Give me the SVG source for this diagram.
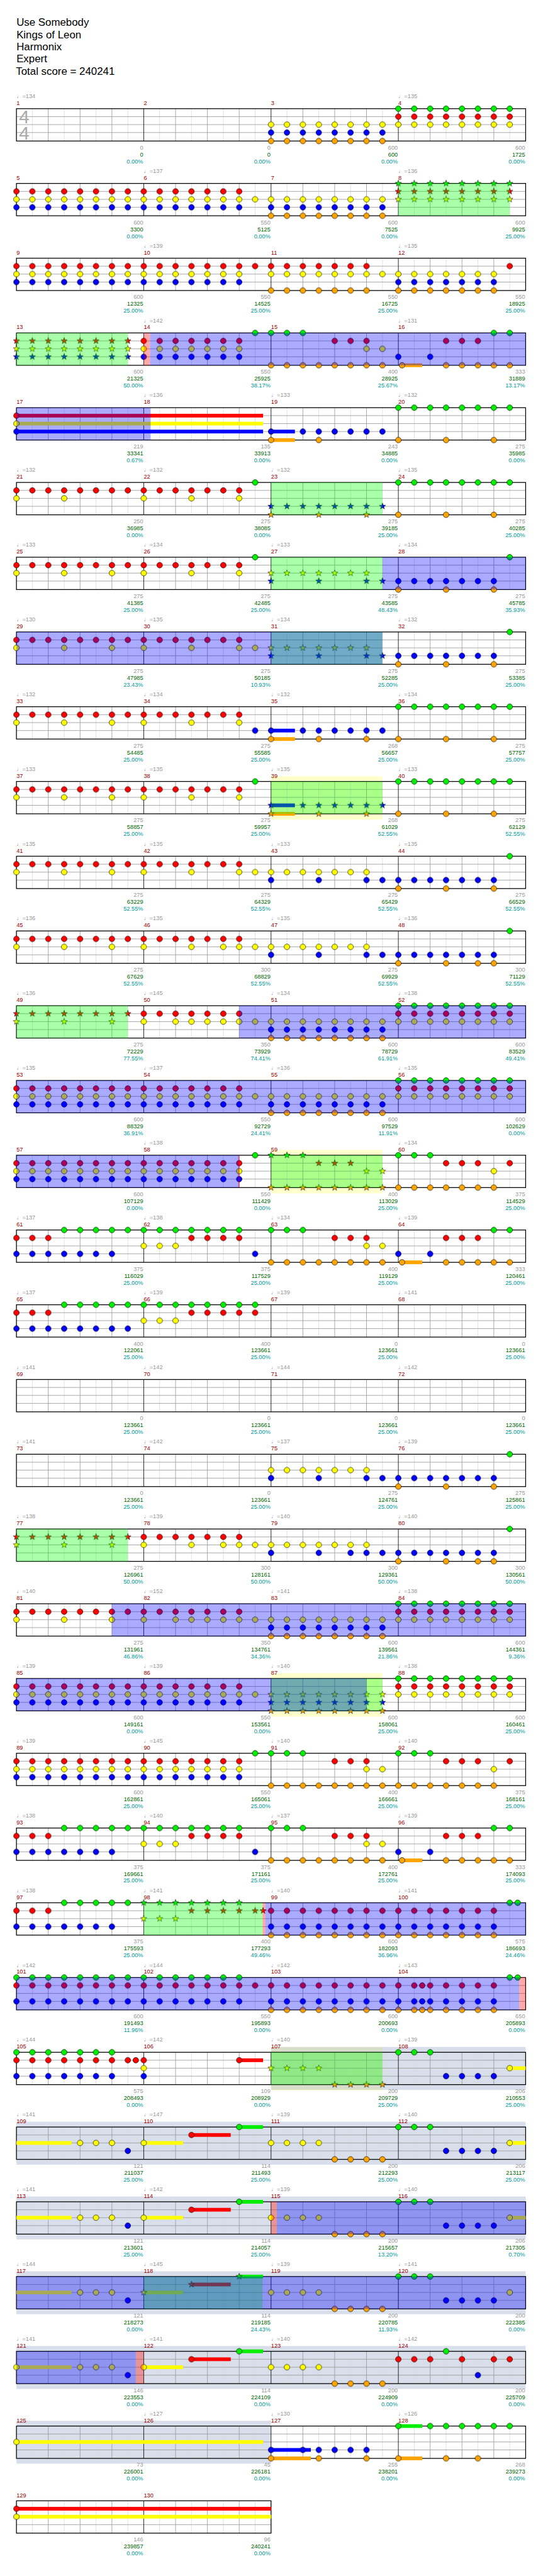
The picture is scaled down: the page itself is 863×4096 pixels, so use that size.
<svg xmlns="http://www.w3.org/2000/svg" width="863" height="4096" viewBox="0 0 863 4096">
<style>
text{font-family:"Liberation Sans","DejaVu Sans",sans-serif;font-size:11px}
.m{fill:#900}
.q{fill:#999}
.a{fill:#999;text-anchor:end}
.g{fill:#060}
.t{fill:#099}
.ti{font-size:20px;fill:#000}
.ts{font-size:35px;fill:#aaa}
.n{fill:none;stroke-width:78}
.og{fill:#0f0;fill-opacity:.333}
.ob{fill:#00f;fill-opacity:.333}
.op{fill:#f00;fill-opacity:.333}
.by{fill:#ffc}
.bg{fill:#8fa0c4;fill-opacity:.35}
</style>
<defs>
<circle id="cG" r="5.3" fill="#0e0" stroke="#000" stroke-width=".8"/>
<circle id="cR" r="5.3" fill="#f00" stroke="#000" stroke-width=".8"/>
<circle id="cY" r="5.3" fill="#ff0" stroke="#000" stroke-width=".8"/>
<circle id="cB" r="5.3" fill="#00f" stroke="#000" stroke-width=".8"/>
<circle id="cO" r="5.3" fill="#ffa500" stroke="#000" stroke-width=".8"/>
<path id="st" d="M0-6.3L1.5-2 6-1.95 2.4.8 3.7 5.1 0 2.5-3.7 5.1-2.4.8-6-1.95-1.5-2z" stroke="#000" stroke-width=".7"/>
<pattern id="pG" x="16" width="30" height="141" patternUnits="userSpaceOnUse"><use href="#cG" x="15" y="64"/></pattern>
<pattern id="pR" x="16" width="30" height="141" patternUnits="userSpaceOnUse"><use href="#cR" x="15" y="79"/></pattern>
<pattern id="pY" x="16" width="30" height="141" patternUnits="userSpaceOnUse"><use href="#cY" x="15" y="94"/></pattern>
<pattern id="pB" x="16" width="30" height="141" patternUnits="userSpaceOnUse"><use href="#cB" x="15" y="109"/></pattern>
<pattern id="pO" x="16" width="30" height="141" patternUnits="userSpaceOnUse"><use href="#cO" x="15" y="125"/></pattern>
<pattern id="sG" x="16" width="30" height="141" patternUnits="userSpaceOnUse"><use href="#st" x="15" y="64" fill="#0e0"/></pattern>
<pattern id="sR" x="16" width="30" height="141" patternUnits="userSpaceOnUse"><use href="#st" x="15" y="79" fill="#f00"/></pattern>
<pattern id="sY" x="16" width="30" height="141" patternUnits="userSpaceOnUse"><use href="#st" x="15" y="94" fill="#ff0"/></pattern>
<pattern id="sB" x="16" width="30" height="141" patternUnits="userSpaceOnUse"><use href="#st" x="15" y="109" fill="#00f"/></pattern>
<pattern id="sO" x="16" width="30" height="141" patternUnits="userSpaceOnUse"><use href="#st" x="15" y="125" fill="#ffa500"/></pattern>
<g id="staff">
<path d="M61 205v61M121 205v61M181 205v61M241 205v61M301 205v61M361 205v61M421 205v61M481 205v61M541 205v61M601 205v61M661 205v61M721 205v61M781 205v61M841 205v61M901 205v61M961 205v61" stroke="#ddd"/>
<path d="M91 205v61M151 205v61M211 205v61M331 205v61M391 205v61M451 205v61M571 205v61M631 205v61M691 205v61M811 205v61M871 205v61M931 205v61M31 220H991M31 235H991M31 250H991" stroke="#999"/>
<path d="M271 205v61M511 205v61M751 205v61" stroke="#000"/>
<rect x="31" y="205" width="960" height="61" fill="none" stroke="#000" stroke-width="1.5"/>
</g>
<g id="staff2">
<path d="M61 205v61M121 205v61M181 205v61M241 205v61M301 205v61M361 205v61M421 205v61M481 205v61" stroke="#ddd"/>
<path d="M91 205v61M151 205v61M211 205v61M331 205v61M391 205v61M451 205v61M31 220H511M31 235H511M31 250H511" stroke="#999"/>
<path d="M271 205v61" stroke="#000"/>
<rect x="31" y="205" width="480" height="61" fill="none" stroke="#000" stroke-width="1.5"/>
</g>
</defs>
<rect width="863" height="4096" fill="#fff"/>
<g transform="scale(0.843)">
<g id="title">
<text class="ti" x="31" y="49">Use Somebody</text>
<text class="ti" x="31" y="72">Kings of Leon</text>
<text class="ti" x="31" y="95">Harmonix</text>
<text class="ti" x="31" y="118">Expert</text>
<text class="ti" x="30" y="141">Total score = 240241</text>
</g>

<g id="row1" transform="translate(0,0)">
<use href="#staff"/>
<text class="ts" x="36" y="233">4</text><text class="ts" x="36" y="263">4</text>
<path class="n" stroke="url(#pG)" d="M736 236h240"/>
<path class="n" stroke="url(#pR)" d="M736 236h240"/>
<path class="n" stroke="url(#pY)" d="M496 236h480"/>
<path class="n" stroke="url(#pB)" d="M496 236h240"/>
<path class="n" stroke="url(#pO)" d="M496 236h240"/>
<text class="q" x="31" y="185">♩=134</text><text class="q" x="751" y="185">♩=135</text>
<text class="m" x="31" y="198">1</text><text class="m" x="271" y="198">2</text><text class="m" x="511" y="198">3</text><text class="m" x="751" y="198">4</text>
<text class="a" x="270" y="282">0<tspan class="g" x="270" dy="13">0</tspan><tspan class="t" x="270" dy="13">0.00%</tspan></text>
<text class="a" x="510" y="282">0<tspan class="g" x="510" dy="13">0</tspan><tspan class="t" x="510" dy="13">0.00%</tspan></text>
<text class="a" x="750" y="282">600<tspan class="g" x="750" dy="13">600</tspan><tspan class="t" x="750" dy="13">0.00%</tspan></text>
<text class="a" x="990" y="282">600<tspan class="g" x="990" dy="13">1725</tspan><tspan class="t" x="990" dy="13">0.00%</tspan></text>
</g>

<g id="row2" transform="translate(0,141)">
<use href="#staff"/>
<path class="n" stroke="url(#pR)" d="M16 236h450"/>
<path class="n" stroke="url(#pY)" d="M16 236h720"/>
<path class="n" stroke="url(#pB)" d="M16 236h450M496 236h240"/>
<path class="n" stroke="url(#pO)" d="M496 236h240"/>
<path class="n" stroke="url(#sG)" d="M736 236h240"/>
<path class="n" stroke="url(#sR)" d="M736 236h240"/>
<path class="n" stroke="url(#sY)" d="M736 236h240"/>
<rect class="og" x="751" y="205" width="210" height="61"/>
<text class="q" x="271" y="185">♩=137</text><text class="q" x="751" y="185">♩=136</text>
<text class="m" x="31" y="198">5</text><text class="m" x="271" y="198">6</text><text class="m" x="511" y="198">7</text><text class="m" x="751" y="198">8</text>
<text class="a" x="270" y="282">600<tspan class="g" x="270" dy="13">3300</tspan><tspan class="t" x="270" dy="13">0.00%</tspan></text>
<text class="a" x="510" y="282">550<tspan class="g" x="510" dy="13">5125</tspan><tspan class="t" x="510" dy="13">0.00%</tspan></text>
<text class="a" x="750" y="282">600<tspan class="g" x="750" dy="13">7525</tspan><tspan class="t" x="750" dy="13">0.00%</tspan></text>
<text class="a" x="990" y="282">600<tspan class="g" x="990" dy="13">9925</tspan><tspan class="t" x="990" dy="13">25.00%</tspan></text>
</g>

<g id="row3" transform="translate(0,282)">
<use href="#staff"/>
<path class="n" stroke="url(#pR)" d="M16 236h690M946 236h30"/>
<path class="n" stroke="url(#pY)" d="M16 236h450M496 236h450"/>
<path class="n" stroke="url(#pB)" d="M16 236h450M736 236h210"/>
<path class="n" stroke="url(#pO)" d="M496 236h210M736 236h210"/>
<text class="q" x="271" y="185">♩=139</text><text class="q" x="751" y="185">♩=135</text>
<text class="m" x="31" y="198">9</text><text class="m" x="271" y="198">10</text><text class="m" x="511" y="198">11</text><text class="m" x="751" y="198">12</text>
<text class="a" x="270" y="282">600<tspan class="g" x="270" dy="13">12325</tspan><tspan class="t" x="270" dy="13">25.00%</tspan></text>
<text class="a" x="510" y="282">550<tspan class="g" x="510" dy="13">14525</tspan><tspan class="t" x="510" dy="13">25.00%</tspan></text>
<text class="a" x="750" y="282">550<tspan class="g" x="750" dy="13">16725</tspan><tspan class="t" x="750" dy="13">25.00%</tspan></text>
<text class="a" x="990" y="282">550<tspan class="g" x="990" dy="13">18925</tspan><tspan class="t" x="990" dy="13">25.00%</tspan></text>
</g>

<g id="row4" transform="translate(0,423)">
<use href="#staff"/>
<rect x="758" y="262.5" width="38" height="7" fill="#ffa500"/>
<path class="n" stroke="url(#sR)" d="M16 236h240"/>
<path class="n" stroke="url(#sY)" d="M16 236h240"/>
<path class="n" stroke="url(#sB)" d="M16 236h240"/>
<path class="n" stroke="url(#pG)" d="M466 236h120M916 236h60"/>
<path class="n" stroke="url(#pR)" d="M256 236h210M616 236h90M826 236h90"/>
<path class="n" stroke="url(#pY)" d="M256 236h210M676 236h60"/>
<path class="n" stroke="url(#pB)" d="M256 236h210M736 236h30M796 236h30"/>
<path class="n" stroke="url(#pO)" d="M496 236h240M826 236h150"/>
<use href="#cO" x="758" y="266"/>
<rect class="og" x="31" y="205" width="210" height="61"/>
<rect class="op" x="271" y="205" width="12" height="61"/>
<rect class="ob" x="283" y="205" width="708" height="61"/>
<text class="q" x="271" y="185">♩=142</text><text class="q" x="751" y="185">♩=131</text>
<text class="m" x="31" y="198">13</text><text class="m" x="271" y="198">14</text><text class="m" x="511" y="198">15</text><text class="m" x="751" y="198">16</text>
<text class="a" x="270" y="282">600<tspan class="g" x="270" dy="13">21325</tspan><tspan class="t" x="270" dy="13">50.00%</tspan></text>
<text class="a" x="510" y="282">550<tspan class="g" x="510" dy="13">25925</tspan><tspan class="t" x="510" dy="13">38.17%</tspan></text>
<text class="a" x="750" y="282">400<tspan class="g" x="750" dy="13">28925</tspan><tspan class="t" x="750" dy="13">25.67%</tspan></text>
<text class="a" x="990" y="282">333<tspan class="g" x="990" dy="13">31889</tspan><tspan class="t" x="990" dy="13">13.17%</tspan></text>
</g>

<g id="row5" transform="translate(0,564)">
<use href="#staff"/>
<rect x="31" y="216.5" width="465" height="7" fill="#f00"/>
<rect x="31" y="231.5" width="465" height="7" fill="#ff0"/>
<rect x="31" y="246.5" width="465" height="7" fill="#00f"/>
<rect x="511" y="246.5" width="45" height="7" fill="#00f"/>
<rect x="511" y="262.5" width="45" height="7" fill="#ffa500"/>
<path class="n" stroke="url(#pR)" d="M16 236h30"/>
<path class="n" stroke="url(#pY)" d="M16 236h30"/>
<path class="n" stroke="url(#pB)" d="M16 236h30M496 236h30M556 236h180"/>
<path class="n" stroke="url(#pO)" d="M496 236h30M586 236h30M736 236h30M826 236h30M916 236h30"/>
<path class="n" stroke="url(#pG)" d="M736 236h240"/>
<rect class="ob" x="31" y="205" width="253" height="61"/>
<text class="q" x="271" y="185">♩=136</text><text class="q" x="511" y="185">♩=133</text><text class="q" x="751" y="185">♩=132</text>
<text class="m" x="31" y="198">17</text><text class="m" x="271" y="198">18</text><text class="m" x="511" y="198">19</text><text class="m" x="751" y="198">20</text>
<text class="a" x="270" y="282">219<tspan class="g" x="270" dy="13">33341</tspan><tspan class="t" x="270" dy="13">0.67%</tspan></text>
<text class="a" x="510" y="282">135<tspan class="g" x="510" dy="13">33913</tspan><tspan class="t" x="510" dy="13">0.00%</tspan></text>
<text class="a" x="750" y="282">243<tspan class="g" x="750" dy="13">34885</tspan><tspan class="t" x="750" dy="13">0.00%</tspan></text>
<text class="a" x="990" y="282">275<tspan class="g" x="990" dy="13">35985</tspan><tspan class="t" x="990" dy="13">0.00%</tspan></text>
</g>

<g id="row6" transform="translate(0,705)">
<use href="#staff"/>
<path class="n" stroke="url(#pR)" d="M16 236h450"/>
<path class="n" stroke="url(#pY)" d="M16 236h30M106 236h30M256 236h30M346 236h30M436 236h30"/>
<path class="n" stroke="url(#pG)" d="M466 236h30M736 236h240"/>
<path class="n" stroke="url(#sB)" d="M496 236h240"/>
<path class="n" stroke="url(#sO)" d="M496 236h30M586 236h30M676 236h30"/>
<path class="n" stroke="url(#pO)" d="M736 236h30M826 236h30M916 236h30"/>
<rect class="og" x="511" y="205" width="210" height="61"/>
<text class="q" x="31" y="185">♩=132</text><text class="q" x="271" y="185">♩=132</text><text class="q" x="511" y="185">♩=132</text><text class="q" x="751" y="185">♩=135</text>
<text class="m" x="31" y="198">21</text><text class="m" x="271" y="198">22</text><text class="m" x="511" y="198">23</text><text class="m" x="751" y="198">24</text>
<text class="a" x="270" y="282">250<tspan class="g" x="270" dy="13">36985</tspan><tspan class="t" x="270" dy="13">0.00%</tspan></text>
<text class="a" x="510" y="282">275<tspan class="g" x="510" dy="13">38085</tspan><tspan class="t" x="510" dy="13">0.00%</tspan></text>
<text class="a" x="750" y="282">275<tspan class="g" x="750" dy="13">39185</tspan><tspan class="t" x="750" dy="13">25.00%</tspan></text>
<text class="a" x="990" y="282">275<tspan class="g" x="990" dy="13">40285</tspan><tspan class="t" x="990" dy="13">25.00%</tspan></text>
</g>

<g id="row7" transform="translate(0,846)">
<use href="#staff"/>
<path class="n" stroke="url(#pR)" d="M16 236h450"/>
<path class="n" stroke="url(#pY)" d="M16 236h30M106 236h30M196 236h30M256 236h30M346 236h30M436 236h30"/>
<path class="n" stroke="url(#pG)" d="M466 236h30M946 236h30"/>
<path class="n" stroke="url(#sY)" d="M496 236h210"/>
<path class="n" stroke="url(#sB)" d="M496 236h30M586 236h30M676 236h60"/>
<path class="n" stroke="url(#pB)" d="M736 236h210"/>
<path class="n" stroke="url(#pO)" d="M736 236h30M826 236h30M916 236h30"/>
<rect class="og" x="511" y="205" width="210" height="61"/>
<rect class="ob" x="721" y="205" width="270" height="61"/>
<text class="q" x="31" y="185">♩=133</text><text class="q" x="271" y="185">♩=134</text><text class="q" x="511" y="185">♩=133</text><text class="q" x="751" y="185">♩=134</text>
<text class="m" x="31" y="198">25</text><text class="m" x="271" y="198">26</text><text class="m" x="511" y="198">27</text><text class="m" x="751" y="198">28</text>
<text class="a" x="270" y="282">275<tspan class="g" x="270" dy="13">41385</tspan><tspan class="t" x="270" dy="13">25.00%</tspan></text>
<text class="a" x="510" y="282">275<tspan class="g" x="510" dy="13">42485</tspan><tspan class="t" x="510" dy="13">25.00%</tspan></text>
<text class="a" x="750" y="282">275<tspan class="g" x="750" dy="13">43585</tspan><tspan class="t" x="750" dy="13">48.43%</tspan></text>
<text class="a" x="990" y="282">275<tspan class="g" x="990" dy="13">45785</tspan><tspan class="t" x="990" dy="13">35.93%</tspan></text>
</g>

<g id="row8" transform="translate(0,987)">
<use href="#staff"/>
<path class="n" stroke="url(#pR)" d="M16 236h450"/>
<path class="n" stroke="url(#pY)" d="M16 236h30M106 236h30M196 236h30M256 236h30M346 236h30M436 236h60"/>
<path class="n" stroke="url(#pG)" d="M946 236h30"/>
<path class="n" stroke="url(#sY)" d="M496 236h210"/>
<path class="n" stroke="url(#sB)" d="M496 236h30M586 236h30M676 236h60"/>
<path class="n" stroke="url(#pB)" d="M736 236h210"/>
<path class="n" stroke="url(#pO)" d="M736 236h30M826 236h30M916 236h30"/>
<rect class="og" x="511" y="205" width="210" height="61"/>
<rect class="ob" x="31" y="205" width="690" height="61"/>
<text class="q" x="31" y="185">♩=130</text><text class="q" x="271" y="185">♩=135</text><text class="q" x="511" y="185">♩=134</text><text class="q" x="751" y="185">♩=132</text>
<text class="m" x="31" y="198">29</text><text class="m" x="271" y="198">30</text><text class="m" x="511" y="198">31</text><text class="m" x="751" y="198">32</text>
<text class="a" x="270" y="282">275<tspan class="g" x="270" dy="13">47985</tspan><tspan class="t" x="270" dy="13">23.43%</tspan></text>
<text class="a" x="510" y="282">275<tspan class="g" x="510" dy="13">50185</tspan><tspan class="t" x="510" dy="13">10.93%</tspan></text>
<text class="a" x="750" y="282">275<tspan class="g" x="750" dy="13">52285</tspan><tspan class="t" x="750" dy="13">25.00%</tspan></text>
<text class="a" x="990" y="282">275<tspan class="g" x="990" dy="13">53385</tspan><tspan class="t" x="990" dy="13">25.00%</tspan></text>
</g>

<g id="row9" transform="translate(0,1128)">
<use href="#staff"/>
<rect x="511" y="246.5" width="45" height="7" fill="#00f"/>
<rect x="511" y="262.5" width="45" height="7" fill="#ffa500"/>
<path class="n" stroke="url(#pR)" d="M16 236h450"/>
<path class="n" stroke="url(#pY)" d="M16 236h30M106 236h30M196 236h30M256 236h30M346 236h30M436 236h30"/>
<path class="n" stroke="url(#pB)" d="M466 236h60M556 236h180"/>
<path class="n" stroke="url(#pO)" d="M496 236h30M586 236h30M676 236h30M736 236h30M826 236h30M916 236h30"/>
<path class="n" stroke="url(#pG)" d="M736 236h240"/>
<text class="q" x="31" y="185">♩=132</text><text class="q" x="271" y="185">♩=134</text><text class="q" x="511" y="185">♩=132</text><text class="q" x="751" y="185">♩=134</text>
<text class="m" x="31" y="198">33</text><text class="m" x="271" y="198">34</text><text class="m" x="511" y="198">35</text><text class="m" x="751" y="198">36</text>
<text class="a" x="270" y="282">275<tspan class="g" x="270" dy="13">54485</tspan><tspan class="t" x="270" dy="13">25.00%</tspan></text>
<text class="a" x="510" y="282">275<tspan class="g" x="510" dy="13">55585</tspan><tspan class="t" x="510" dy="13">25.00%</tspan></text>
<text class="a" x="750" y="282">268<tspan class="g" x="750" dy="13">56657</tspan><tspan class="t" x="750" dy="13">25.00%</tspan></text>
<text class="a" x="990" y="282">275<tspan class="g" x="990" dy="13">57757</tspan><tspan class="t" x="990" dy="13">25.00%</tspan></text>
</g>

<g id="row10" transform="translate(0,1269)">
<rect class="by" x="511" y="195" width="210" height="82"/>
<use href="#staff"/>
<rect x="511" y="246.5" width="45" height="7" fill="#00f"/>
<rect x="511" y="262.5" width="45" height="7" fill="#ffa500"/>
<path class="n" stroke="url(#pR)" d="M16 236h450"/>
<path class="n" stroke="url(#pY)" d="M16 236h30M106 236h30M196 236h30M256 236h30M346 236h30M436 236h30"/>
<path class="n" stroke="url(#pG)" d="M466 236h30M736 236h240"/>
<path class="n" stroke="url(#sB)" d="M496 236h30M556 236h180"/>
<path class="n" stroke="url(#sO)" d="M496 236h30M586 236h30M676 236h30"/>
<path class="n" stroke="url(#pO)" d="M736 236h30M826 236h30M916 236h30"/>
<rect class="og" x="511" y="205" width="210" height="61"/>
<text class="q" x="31" y="185">♩=133</text><text class="q" x="271" y="185">♩=135</text><text class="q" x="511" y="185">♩=135</text><text class="q" x="751" y="185">♩=133</text>
<text class="m" x="31" y="198">37</text><text class="m" x="271" y="198">38</text><text class="m" x="511" y="198">39</text><text class="m" x="751" y="198">40</text>
<text class="a" x="270" y="282">275<tspan class="g" x="270" dy="13">58857</tspan><tspan class="t" x="270" dy="13">25.00%</tspan></text>
<text class="a" x="510" y="282">275<tspan class="g" x="510" dy="13">59957</tspan><tspan class="t" x="510" dy="13">25.00%</tspan></text>
<text class="a" x="750" y="282">268<tspan class="g" x="750" dy="13">61029</tspan><tspan class="t" x="750" dy="13">52.55%</tspan></text>
<text class="a" x="990" y="282">275<tspan class="g" x="990" dy="13">62129</tspan><tspan class="t" x="990" dy="13">52.55%</tspan></text>
</g>

<g id="row11" transform="translate(0,1410)">
<use href="#staff"/>
<path class="n" stroke="url(#pR)" d="M16 236h450"/>
<path class="n" stroke="url(#pY)" d="M16 236h30M106 236h30M196 236h30M256 236h30M346 236h30M436 236h270"/>
<path class="n" stroke="url(#pB)" d="M496 236h30M586 236h30M676 236h270"/>
<path class="n" stroke="url(#pO)" d="M736 236h30M826 236h30M916 236h30"/>
<path class="n" stroke="url(#pG)" d="M946 236h30"/>
<text class="q" x="31" y="185">♩=135</text><text class="q" x="271" y="185">♩=135</text><text class="q" x="511" y="185">♩=133</text><text class="q" x="751" y="185">♩=135</text>
<text class="m" x="31" y="198">41</text><text class="m" x="271" y="198">42</text><text class="m" x="511" y="198">43</text><text class="m" x="751" y="198">44</text>
<text class="a" x="270" y="282">275<tspan class="g" x="270" dy="13">63229</tspan><tspan class="t" x="270" dy="13">52.55%</tspan></text>
<text class="a" x="510" y="282">275<tspan class="g" x="510" dy="13">64329</tspan><tspan class="t" x="510" dy="13">52.55%</tspan></text>
<text class="a" x="750" y="282">275<tspan class="g" x="750" dy="13">65429</tspan><tspan class="t" x="750" dy="13">52.55%</tspan></text>
<text class="a" x="990" y="282">275<tspan class="g" x="990" dy="13">66529</tspan><tspan class="t" x="990" dy="13">52.55%</tspan></text>
</g>

<g id="row12" transform="translate(0,1551)">
<use href="#staff"/>
<path class="n" stroke="url(#pR)" d="M16 236h450"/>
<path class="n" stroke="url(#pY)" d="M16 236h30M106 236h30M196 236h30M256 236h30M346 236h30M406 236h300"/>
<path class="n" stroke="url(#pB)" d="M496 236h30M586 236h30M676 236h270"/>
<path class="n" stroke="url(#pO)" d="M736 236h30M826 236h30M886 236h60"/>
<path class="n" stroke="url(#pG)" d="M946 236h30"/>
<text class="q" x="31" y="185">♩=136</text><text class="q" x="271" y="185">♩=135</text><text class="q" x="511" y="185">♩=135</text><text class="q" x="751" y="185">♩=136</text>
<text class="m" x="31" y="198">45</text><text class="m" x="271" y="198">46</text><text class="m" x="511" y="198">47</text><text class="m" x="751" y="198">48</text>
<text class="a" x="270" y="282">275<tspan class="g" x="270" dy="13">67629</tspan><tspan class="t" x="270" dy="13">52.55%</tspan></text>
<text class="a" x="510" y="282">300<tspan class="g" x="510" dy="13">68829</tspan><tspan class="t" x="510" dy="13">52.55%</tspan></text>
<text class="a" x="750" y="282">275<tspan class="g" x="750" dy="13">69929</tspan><tspan class="t" x="750" dy="13">52.55%</tspan></text>
<text class="a" x="990" y="282">300<tspan class="g" x="990" dy="13">71129</tspan><tspan class="t" x="990" dy="13">52.55%</tspan></text>
</g>

<g id="row13" transform="translate(0,1692)">
<use href="#staff"/>
<path class="n" stroke="url(#sR)" d="M16 236h240"/>
<path class="n" stroke="url(#sY)" d="M16 236h30M106 236h30M196 236h30"/>
<path class="n" stroke="url(#pR)" d="M256 236h210M736 236h240"/>
<path class="n" stroke="url(#pY)" d="M256 236h30M316 236h660"/>
<path class="n" stroke="url(#pB)" d="M496 236h240"/>
<path class="n" stroke="url(#pO)" d="M496 236h240"/>
<path class="n" stroke="url(#pG)" d="M736 236h240"/>
<rect class="og" x="31" y="205" width="210" height="61"/>
<rect class="ob" x="451" y="205" width="540" height="61"/>
<text class="q" x="31" y="185">♩=136</text><text class="q" x="271" y="185">♩=145</text><text class="q" x="511" y="185">♩=134</text><text class="q" x="751" y="185">♩=138</text>
<text class="m" x="31" y="198">49</text><text class="m" x="271" y="198">50</text><text class="m" x="511" y="198">51</text><text class="m" x="751" y="198">52</text>
<text class="a" x="270" y="282">275<tspan class="g" x="270" dy="13">72229</tspan><tspan class="t" x="270" dy="13">77.55%</tspan></text>
<text class="a" x="510" y="282">350<tspan class="g" x="510" dy="13">73929</tspan><tspan class="t" x="510" dy="13">74.41%</tspan></text>
<text class="a" x="750" y="282">600<tspan class="g" x="750" dy="13">78729</tspan><tspan class="t" x="750" dy="13">61.91%</tspan></text>
<text class="a" x="990" y="282">600<tspan class="g" x="990" dy="13">83529</tspan><tspan class="t" x="990" dy="13">49.41%</tspan></text>
</g>

<g id="row14" transform="translate(0,1833)">
<use href="#staff"/>
<path class="n" stroke="url(#pR)" d="M16 236h450M736 236h240"/>
<path class="n" stroke="url(#pY)" d="M16 236h960"/>
<path class="n" stroke="url(#pB)" d="M16 236h450M496 236h240"/>
<path class="n" stroke="url(#pO)" d="M496 236h240"/>
<path class="n" stroke="url(#pG)" d="M736 236h240"/>
<rect class="ob" x="31" y="205" width="960" height="61"/>
<text class="q" x="31" y="185">♩=135</text><text class="q" x="271" y="185">♩=137</text><text class="q" x="511" y="185">♩=136</text><text class="q" x="751" y="185">♩=135</text>
<text class="m" x="31" y="198">53</text><text class="m" x="271" y="198">54</text><text class="m" x="511" y="198">55</text><text class="m" x="751" y="198">56</text>
<text class="a" x="270" y="282">600<tspan class="g" x="270" dy="13">88329</tspan><tspan class="t" x="270" dy="13">36.91%</tspan></text>
<text class="a" x="510" y="282">550<tspan class="g" x="510" dy="13">92729</tspan><tspan class="t" x="510" dy="13">24.41%</tspan></text>
<text class="a" x="750" y="282">600<tspan class="g" x="750" dy="13">97529</tspan><tspan class="t" x="750" dy="13">11.91%</tspan></text>
<text class="a" x="990" y="282">600<tspan class="g" x="990" dy="13">102629</tspan><tspan class="t" x="990" dy="13">0.00%</tspan></text>
</g>

<g id="row15" transform="translate(0,1974)">
<rect class="by" x="511" y="195" width="210" height="82"/>
<use href="#staff"/>
<path class="n" stroke="url(#pR)" d="M16 236h450M826 236h90M946 236h30"/>
<path class="n" stroke="url(#pY)" d="M16 236h450M916 236h30"/>
<path class="n" stroke="url(#pB)" d="M16 236h450"/>
<path class="n" stroke="url(#pG)" d="M466 236h30M736 236h90"/>
<path class="n" stroke="url(#sG)" d="M496 236h90"/>
<path class="n" stroke="url(#sR)" d="M586 236h90"/>
<path class="n" stroke="url(#sY)" d="M676 236h60"/>
<path class="n" stroke="url(#sO)" d="M496 236h240"/>
<path class="n" stroke="url(#pO)" d="M736 236h210"/>
<rect class="ob" x="31" y="205" width="420" height="61"/>
<rect class="op" x="449" y="205" width="3" height="61"/>
<rect class="og" x="511" y="205" width="210" height="61"/>
<text class="q" x="271" y="185">♩=138</text><text class="q" x="751" y="185">♩=134</text>
<text class="m" x="31" y="198">57</text><text class="m" x="271" y="198">58</text><text class="m" x="511" y="198">59</text><text class="m" x="751" y="198">60</text>
<text class="a" x="270" y="282">600<tspan class="g" x="270" dy="13">107129</tspan><tspan class="t" x="270" dy="13">0.00%</tspan></text>
<text class="a" x="510" y="282">550<tspan class="g" x="510" dy="13">111429</tspan><tspan class="t" x="510" dy="13">0.00%</tspan></text>
<text class="a" x="750" y="282">400<tspan class="g" x="750" dy="13">113029</tspan><tspan class="t" x="750" dy="13">25.00%</tspan></text>
<text class="a" x="990" y="282">375<tspan class="g" x="990" dy="13">114529</tspan><tspan class="t" x="990" dy="13">25.00%</tspan></text>
</g>

<g id="row16" transform="translate(0,2115)">
<use href="#staff"/>
<rect x="758" y="262.5" width="38" height="7" fill="#ffa500"/>
<path class="n" stroke="url(#pR)" d="M16 236h90M346 236h120M616 236h90M826 236h90"/>
<path class="n" stroke="url(#pG)" d="M106 236h360M496 236h90M916 236h60"/>
<path class="n" stroke="url(#pY)" d="M256 236h90M676 236h60"/>
<path class="n" stroke="url(#pB)" d="M16 236h210M466 236h30M736 236h30M796 236h30"/>
<path class="n" stroke="url(#pO)" d="M496 236h240M826 236h150"/>
<use href="#cO" x="758" y="266"/>
<text class="q" x="31" y="185">♩=137</text><text class="q" x="271" y="185">♩=138</text><text class="q" x="511" y="185">♩=134</text><text class="q" x="751" y="185">♩=139</text>
<text class="m" x="31" y="198">61</text><text class="m" x="271" y="198">62</text><text class="m" x="511" y="198">63</text><text class="m" x="751" y="198">64</text>
<text class="a" x="270" y="282">375<tspan class="g" x="270" dy="13">116029</tspan><tspan class="t" x="270" dy="13">25.00%</tspan></text>
<text class="a" x="510" y="282">375<tspan class="g" x="510" dy="13">117529</tspan><tspan class="t" x="510" dy="13">25.00%</tspan></text>
<text class="a" x="750" y="282">400<tspan class="g" x="750" dy="13">119129</tspan><tspan class="t" x="750" dy="13">25.00%</tspan></text>
<text class="a" x="990" y="282">333<tspan class="g" x="990" dy="13">120461</tspan><tspan class="t" x="990" dy="13">25.00%</tspan></text>
</g>

<g id="row17" transform="translate(0,2256)">
<use href="#staff"/>
<path class="n" stroke="url(#pR)" d="M16 236h90M346 236h150"/>
<path class="n" stroke="url(#pG)" d="M106 236h390"/>
<path class="n" stroke="url(#pY)" d="M256 236h90"/>
<path class="n" stroke="url(#pB)" d="M16 236h240"/>
<text class="q" x="31" y="185">♩=137</text><text class="q" x="271" y="185">♩=139</text><text class="q" x="511" y="185">♩=139</text><text class="q" x="751" y="185">♩=141</text>
<text class="m" x="31" y="198">65</text><text class="m" x="271" y="198">66</text><text class="m" x="511" y="198">67</text><text class="m" x="751" y="198">68</text>
<text class="a" x="270" y="282">400<tspan class="g" x="270" dy="13">122061</tspan><tspan class="t" x="270" dy="13">25.00%</tspan></text>
<text class="a" x="510" y="282">400<tspan class="g" x="510" dy="13">123661</tspan><tspan class="t" x="510" dy="13">25.00%</tspan></text>
<text class="a" x="750" y="282">0<tspan class="g" x="750" dy="13">123661</tspan><tspan class="t" x="750" dy="13">25.00%</tspan></text>
<text class="a" x="990" y="282">0<tspan class="g" x="990" dy="13">123661</tspan><tspan class="t" x="990" dy="13">25.00%</tspan></text>
</g>

<g id="row18" transform="translate(0,2397)">
<use href="#staff"/>
<text class="q" x="31" y="185">♩=141</text><text class="q" x="271" y="185">♩=142</text><text class="q" x="511" y="185">♩=144</text><text class="q" x="751" y="185">♩=142</text>
<text class="m" x="31" y="198">69</text><text class="m" x="271" y="198">70</text><text class="m" x="511" y="198">71</text><text class="m" x="751" y="198">72</text>
<text class="a" x="270" y="282">0<tspan class="g" x="270" dy="13">123661</tspan><tspan class="t" x="270" dy="13">25.00%</tspan></text>
<text class="a" x="510" y="282">0<tspan class="g" x="510" dy="13">123661</tspan><tspan class="t" x="510" dy="13">25.00%</tspan></text>
<text class="a" x="750" y="282">0<tspan class="g" x="750" dy="13">123661</tspan><tspan class="t" x="750" dy="13">25.00%</tspan></text>
<text class="a" x="990" y="282">0<tspan class="g" x="990" dy="13">123661</tspan><tspan class="t" x="990" dy="13">25.00%</tspan></text>
</g>

<g id="row19" transform="translate(0,2538)">
<use href="#staff"/>
<path class="n" stroke="url(#pY)" d="M496 236h210"/>
<path class="n" stroke="url(#pB)" d="M496 236h30M586 236h30M676 236h270"/>
<path class="n" stroke="url(#pO)" d="M736 236h30M826 236h30M916 236h30"/>
<path class="n" stroke="url(#pG)" d="M946 236h30"/>
<text class="q" x="31" y="185">♩=141</text><text class="q" x="271" y="185">♩=142</text><text class="q" x="511" y="185">♩=137</text><text class="q" x="751" y="185">♩=139</text>
<text class="m" x="31" y="198">73</text><text class="m" x="271" y="198">74</text><text class="m" x="511" y="198">75</text><text class="m" x="751" y="198">76</text>
<text class="a" x="270" y="282">0<tspan class="g" x="270" dy="13">123661</tspan><tspan class="t" x="270" dy="13">25.00%</tspan></text>
<text class="a" x="510" y="282">0<tspan class="g" x="510" dy="13">123661</tspan><tspan class="t" x="510" dy="13">25.00%</tspan></text>
<text class="a" x="750" y="282">275<tspan class="g" x="750" dy="13">124761</tspan><tspan class="t" x="750" dy="13">25.00%</tspan></text>
<text class="a" x="990" y="282">275<tspan class="g" x="990" dy="13">125861</tspan><tspan class="t" x="990" dy="13">25.00%</tspan></text>
</g>

<g id="row20" transform="translate(0,2679)">
<use href="#staff"/>
<path class="n" stroke="url(#sR)" d="M16 236h240"/>
<path class="n" stroke="url(#sY)" d="M16 236h30M106 236h30M196 236h30"/>
<path class="n" stroke="url(#pR)" d="M256 236h210"/>
<path class="n" stroke="url(#pY)" d="M256 236h30M346 236h30M406 236h300"/>
<path class="n" stroke="url(#pB)" d="M496 236h30M586 236h30M646 236h300"/>
<path class="n" stroke="url(#pO)" d="M736 236h30M826 236h30M886 236h60"/>
<path class="n" stroke="url(#pG)" d="M946 236h30"/>
<rect class="og" x="31" y="205" width="210" height="61"/>
<text class="q" x="31" y="185">♩=138</text><text class="q" x="271" y="185">♩=139</text><text class="q" x="511" y="185">♩=140</text><text class="q" x="751" y="185">♩=140</text>
<text class="m" x="31" y="198">77</text><text class="m" x="271" y="198">78</text><text class="m" x="511" y="198">79</text><text class="m" x="751" y="198">80</text>
<text class="a" x="270" y="282">275<tspan class="g" x="270" dy="13">126961</tspan><tspan class="t" x="270" dy="13">50.00%</tspan></text>
<text class="a" x="510" y="282">300<tspan class="g" x="510" dy="13">128161</tspan><tspan class="t" x="510" dy="13">50.00%</tspan></text>
<text class="a" x="750" y="282">300<tspan class="g" x="750" dy="13">129361</tspan><tspan class="t" x="750" dy="13">50.00%</tspan></text>
<text class="a" x="990" y="282">300<tspan class="g" x="990" dy="13">130561</tspan><tspan class="t" x="990" dy="13">50.00%</tspan></text>
</g>

<g id="row21" transform="translate(0,2820)">
<use href="#staff"/>
<path class="n" stroke="url(#pR)" d="M16 236h450M736 236h240"/>
<path class="n" stroke="url(#pY)" d="M16 236h30M106 236h30M196 236h30M256 236h30M316 236h660"/>
<path class="n" stroke="url(#pB)" d="M496 236h240"/>
<path class="n" stroke="url(#pO)" d="M496 236h240"/>
<path class="n" stroke="url(#pG)" d="M736 236h240"/>
<rect class="ob" x="211" y="205" width="780" height="61"/>
<text class="q" x="31" y="185">♩=140</text><text class="q" x="271" y="185">♩=152</text><text class="q" x="511" y="185">♩=141</text><text class="q" x="751" y="185">♩=138</text>
<text class="m" x="31" y="198">81</text><text class="m" x="271" y="198">82</text><text class="m" x="511" y="198">83</text><text class="m" x="751" y="198">84</text>
<text class="a" x="270" y="282">275<tspan class="g" x="270" dy="13">131961</tspan><tspan class="t" x="270" dy="13">46.86%</tspan></text>
<text class="a" x="510" y="282">350<tspan class="g" x="510" dy="13">134761</tspan><tspan class="t" x="510" dy="13">34.36%</tspan></text>
<text class="a" x="750" y="282">600<tspan class="g" x="750" dy="13">139561</tspan><tspan class="t" x="750" dy="13">21.86%</tspan></text>
<text class="a" x="990" y="282">600<tspan class="g" x="990" dy="13">144361</tspan><tspan class="t" x="990" dy="13">9.36%</tspan></text>
</g>

<g id="row22" transform="translate(0,2961)">
<rect class="by" x="511" y="195" width="210" height="82"/>
<use href="#staff"/>
<path class="n" stroke="url(#pR)" d="M16 236h450M736 236h240"/>
<path class="n" stroke="url(#pY)" d="M16 236h480M736 236h240"/>
<path class="n" stroke="url(#pB)" d="M16 236h450"/>
<path class="n" stroke="url(#pG)" d="M736 236h240"/>
<path class="n" stroke="url(#sY)" d="M496 236h240"/>
<path class="n" stroke="url(#sB)" d="M496 236h240"/>
<path class="n" stroke="url(#sO)" d="M496 236h240"/>
<rect class="og" x="511" y="205" width="210" height="61"/>
<rect class="ob" x="31" y="205" width="660" height="61"/>
<text class="q" x="31" y="185">♩=139</text><text class="q" x="271" y="185">♩=139</text><text class="q" x="511" y="185">♩=140</text><text class="q" x="751" y="185">♩=138</text>
<text class="m" x="31" y="198">85</text><text class="m" x="271" y="198">86</text><text class="m" x="511" y="198">87</text><text class="m" x="751" y="198">88</text>
<text class="a" x="270" y="282">600<tspan class="g" x="270" dy="13">149161</tspan><tspan class="t" x="270" dy="13">0.00%</tspan></text>
<text class="a" x="510" y="282">550<tspan class="g" x="510" dy="13">153561</tspan><tspan class="t" x="510" dy="13">0.00%</tspan></text>
<text class="a" x="750" y="282">600<tspan class="g" x="750" dy="13">158061</tspan><tspan class="t" x="750" dy="13">25.00%</tspan></text>
<text class="a" x="990" y="282">600<tspan class="g" x="990" dy="13">160461</tspan><tspan class="t" x="990" dy="13">25.00%</tspan></text>
</g>

<g id="row23" transform="translate(0,3102)">
<use href="#staff"/>
<path class="n" stroke="url(#pR)" d="M16 236h450M616 236h90M826 236h90M946 236h30"/>
<path class="n" stroke="url(#pY)" d="M16 236h450M676 236h60M916 236h30"/>
<path class="n" stroke="url(#pB)" d="M16 236h450"/>
<path class="n" stroke="url(#pG)" d="M466 236h120M736 236h90"/>
<path class="n" stroke="url(#pO)" d="M496 236h450"/>
<text class="q" x="31" y="185">♩=139</text><text class="q" x="271" y="185">♩=145</text><text class="q" x="511" y="185">♩=140</text><text class="q" x="751" y="185">♩=140</text>
<text class="m" x="31" y="198">89</text><text class="m" x="271" y="198">90</text><text class="m" x="511" y="198">91</text><text class="m" x="751" y="198">92</text>
<text class="a" x="270" y="282">600<tspan class="g" x="270" dy="13">162861</tspan><tspan class="t" x="270" dy="13">25.00%</tspan></text>
<text class="a" x="510" y="282">550<tspan class="g" x="510" dy="13">165061</tspan><tspan class="t" x="510" dy="13">25.00%</tspan></text>
<text class="a" x="750" y="282">400<tspan class="g" x="750" dy="13">166661</tspan><tspan class="t" x="750" dy="13">25.00%</tspan></text>
<text class="a" x="990" y="282">375<tspan class="g" x="990" dy="13">168161</tspan><tspan class="t" x="990" dy="13">25.00%</tspan></text>
</g>

<g id="row24" transform="translate(0,3243)">
<use href="#staff"/>
<rect x="758" y="262.5" width="38" height="7" fill="#ffa500"/>
<path class="n" stroke="url(#pR)" d="M16 236h90M346 236h120M616 236h90M826 236h90"/>
<path class="n" stroke="url(#pG)" d="M106 236h360M496 236h90M916 236h60"/>
<path class="n" stroke="url(#pY)" d="M256 236h90M676 236h60"/>
<path class="n" stroke="url(#pB)" d="M16 236h210M466 236h30M736 236h30M796 236h30"/>
<path class="n" stroke="url(#pO)" d="M496 236h240M826 236h150"/>
<use href="#cO" x="758" y="266"/>
<text class="q" x="31" y="185">♩=138</text><text class="q" x="271" y="185">♩=140</text><text class="q" x="511" y="185">♩=137</text><text class="q" x="751" y="185">♩=139</text>
<text class="m" x="31" y="198">93</text><text class="m" x="271" y="198">94</text><text class="m" x="511" y="198">95</text><text class="m" x="751" y="198">96</text>
<text class="a" x="270" y="282">375<tspan class="g" x="270" dy="13">169661</tspan><tspan class="t" x="270" dy="13">25.00%</tspan></text>
<text class="a" x="510" y="282">375<tspan class="g" x="510" dy="13">171161</tspan><tspan class="t" x="510" dy="13">25.00%</tspan></text>
<text class="a" x="750" y="282">400<tspan class="g" x="750" dy="13">172761</tspan><tspan class="t" x="750" dy="13">25.00%</tspan></text>
<text class="a" x="990" y="282">333<tspan class="g" x="990" dy="13">174093</tspan><tspan class="t" x="990" dy="13">25.00%</tspan></text>
</g>

<g id="row25" transform="translate(0,3384)">
<use href="#staff"/>
<path class="n" stroke="url(#pR)" d="M16 236h90M496 236h450"/>
<path class="n" stroke="url(#pG)" d="M106 236h150M946 236h30"/>
<path class="n" stroke="url(#pB)" d="M16 236h210M496 236h450"/>
<path class="n" stroke="url(#pO)" d="M496 236h450"/>
<path class="n" stroke="url(#sG)" d="M256 236h210"/>
<path class="n" stroke="url(#sR)" d="M346 236h150"/>
<path class="n" stroke="url(#sY)" d="M256 236h90"/>
<use href="#st" x="496" y="220" fill="#f00"/>
<use href="#cG" x="976" y="205"/>
<rect class="og" x="271" y="205" width="224" height="61"/>
<rect class="op" x="495" y="205" width="5" height="61"/>
<rect class="ob" x="500" y="205" width="491" height="61"/>
<text class="q" x="31" y="185">♩=138</text><text class="q" x="271" y="185">♩=141</text><text class="q" x="511" y="185">♩=140</text><text class="q" x="751" y="185">♩=141</text>
<text class="m" x="31" y="198">97</text><text class="m" x="271" y="198">98</text><text class="m" x="511" y="198">99</text><text class="m" x="751" y="198">100</text>
<text class="a" x="270" y="282">375<tspan class="g" x="270" dy="13">175593</tspan><tspan class="t" x="270" dy="13">25.00%</tspan></text>
<text class="a" x="510" y="282">400<tspan class="g" x="510" dy="13">177293</tspan><tspan class="t" x="510" dy="13">49.46%</tspan></text>
<text class="a" x="750" y="282">600<tspan class="g" x="750" dy="13">182093</tspan><tspan class="t" x="750" dy="13">36.96%</tspan></text>
<text class="a" x="990" y="282">575<tspan class="g" x="990" dy="13">186693</tspan><tspan class="t" x="990" dy="13">24.46%</tspan></text>
</g>

<g id="row26" transform="translate(0,3525)">
<use href="#staff"/>
<path class="n" stroke="url(#pG)" d="M16 236h450M946 236h30"/>
<path class="n" stroke="url(#pR)" d="M16 236h930"/>
<path class="n" stroke="url(#pB)" d="M16 236h450M496 236h450"/>
<path class="n" stroke="url(#pO)" d="M496 236h450"/>
<use href="#cR" x="796" y="220"/>
<use href="#cB" x="796" y="250"/>
<use href="#cO" x="796" y="266"/>
<use href="#cG" x="976" y="205"/>
<rect class="ob" x="31" y="205" width="948" height="61"/>
<rect class="op" x="979" y="205" width="12" height="61"/>
<text class="q" x="31" y="185">♩=142</text><text class="q" x="271" y="185">♩=144</text><text class="q" x="511" y="185">♩=142</text><text class="q" x="751" y="185">♩=143</text>
<text class="m" x="31" y="198">101</text><text class="m" x="271" y="198">102</text><text class="m" x="511" y="198">103</text><text class="m" x="751" y="198">104</text>
<text class="a" x="270" y="282">600<tspan class="g" x="270" dy="13">191493</tspan><tspan class="t" x="270" dy="13">11.96%</tspan></text>
<text class="a" x="510" y="282">550<tspan class="g" x="510" dy="13">195893</tspan><tspan class="t" x="510" dy="13">0.00%</tspan></text>
<text class="a" x="750" y="282">600<tspan class="g" x="750" dy="13">200693</tspan><tspan class="t" x="750" dy="13">0.00%</tspan></text>
<text class="a" x="990" y="282">650<tspan class="g" x="990" dy="13">205893</tspan><tspan class="t" x="990" dy="13">0.00%</tspan></text>
</g>

<g id="row27" transform="translate(0,3666)">
<rect class="by" x="511" y="195" width="210" height="82"/>
<rect class="bg" x="511" y="195" width="480" height="81"/>
<use href="#staff"/>
<rect x="451" y="216.5" width="45" height="7" fill="#f00"/>
<rect x="961" y="231.5" width="30" height="7" fill="#ff0"/>
<path class="n" stroke="url(#pG)" d="M16 236h210M736 236h90"/>
<path class="n" stroke="url(#pR)" d="M16 236h270M436 236h30"/>
<path class="n" stroke="url(#pY)" d="M256 236h30M946 236h30"/>
<path class="n" stroke="url(#pB)" d="M16 236h210M256 236h30M826 236h120"/>
<path class="n" stroke="url(#sY)" d="M496 236h120"/>
<path class="n" stroke="url(#sO)" d="M616 236h120"/>
<use href="#cR" x="256" y="220"/>
<rect class="og" x="511" y="205" width="210" height="61"/>
<text class="q" x="31" y="185">♩=144</text><text class="q" x="271" y="185">♩=142</text><text class="q" x="511" y="185">♩=140</text><text class="q" x="751" y="185">♩=139</text>
<text class="m" x="31" y="198">105</text><text class="m" x="271" y="198">106</text><text class="m" x="511" y="198">107</text><text class="m" x="751" y="198">108</text>
<text class="a" x="270" y="282">575<tspan class="g" x="270" dy="13">208493</tspan><tspan class="t" x="270" dy="13">0.00%</tspan></text>
<text class="a" x="510" y="282">109<tspan class="g" x="510" dy="13">208929</tspan><tspan class="t" x="510" dy="13">0.00%</tspan></text>
<text class="a" x="750" y="282">200<tspan class="g" x="750" dy="13">209729</tspan><tspan class="t" x="750" dy="13">25.00%</tspan></text>
<text class="a" x="990" y="282">206<tspan class="g" x="990" dy="13">210553</tspan><tspan class="t" x="990" dy="13">25.00%</tspan></text>
</g>

<g id="row28" transform="translate(0,3807)">
<rect class="bg" x="31" y="195" width="960" height="81"/>
<use href="#staff"/>
<rect x="31" y="231.5" width="104" height="7" fill="#ff0"/>
<rect x="271" y="231.5" width="74" height="7" fill="#ff0"/>
<rect x="361" y="216.5" width="74" height="7" fill="#f00"/>
<rect x="451" y="201.5" width="45" height="7" fill="#0e0"/>
<rect x="961" y="231.5" width="30" height="7" fill="#ff0"/>
<path class="n" stroke="url(#pY)" d="M136 236h90M256 236h30M496 236h120M946 236h30"/>
<path class="n" stroke="url(#pB)" d="M226 236h30M826 236h120"/>
<path class="n" stroke="url(#pR)" d="M346 236h30"/>
<path class="n" stroke="url(#pG)" d="M436 236h30M736 236h90"/>
<path class="n" stroke="url(#pO)" d="M616 236h120"/>
<text class="q" x="31" y="185">♩=141</text><text class="q" x="271" y="185">♩=147</text><text class="q" x="511" y="185">♩=139</text><text class="q" x="751" y="185">♩=140</text>
<text class="m" x="31" y="198">109</text><text class="m" x="271" y="198">110</text><text class="m" x="511" y="198">111</text><text class="m" x="751" y="198">112</text>
<text class="a" x="270" y="282">121<tspan class="g" x="270" dy="13">211037</tspan><tspan class="t" x="270" dy="13">25.00%</tspan></text>
<text class="a" x="510" y="282">114<tspan class="g" x="510" dy="13">211493</tspan><tspan class="t" x="510" dy="13">25.00%</tspan></text>
<text class="a" x="750" y="282">200<tspan class="g" x="750" dy="13">212293</tspan><tspan class="t" x="750" dy="13">25.00%</tspan></text>
<text class="a" x="990" y="282">206<tspan class="g" x="990" dy="13">213117</tspan><tspan class="t" x="990" dy="13">25.00%</tspan></text>
</g>

<g id="row29" transform="translate(0,3948)">
<rect class="bg" x="31" y="195" width="960" height="81"/>
<use href="#staff"/>
<rect x="31" y="231.5" width="104" height="7" fill="#ff0"/>
<rect x="271" y="231.5" width="74" height="7" fill="#ff0"/>
<rect x="361" y="216.5" width="74" height="7" fill="#f00"/>
<rect x="451" y="201.5" width="45" height="7" fill="#0e0"/>
<rect x="961" y="231.5" width="30" height="7" fill="#ff0"/>
<path class="n" stroke="url(#pY)" d="M136 236h90M256 236h30M496 236h120M946 236h30"/>
<path class="n" stroke="url(#pB)" d="M226 236h30M826 236h120"/>
<path class="n" stroke="url(#pR)" d="M346 236h30"/>
<path class="n" stroke="url(#pG)" d="M436 236h30M736 236h90"/>
<path class="n" stroke="url(#pO)" d="M616 236h120"/>
<rect class="op" x="511" y="205" width="11" height="61"/>
<rect class="ob" x="522" y="205" width="469" height="61"/>
<text class="q" x="31" y="185">♩=141</text><text class="q" x="271" y="185">♩=142</text><text class="q" x="511" y="185">♩=139</text><text class="q" x="751" y="185">♩=140</text>
<text class="m" x="31" y="198">113</text><text class="m" x="271" y="198">114</text><text class="m" x="511" y="198">115</text><text class="m" x="751" y="198">116</text>
<text class="a" x="270" y="282">121<tspan class="g" x="270" dy="13">213601</tspan><tspan class="t" x="270" dy="13">25.00%</tspan></text>
<text class="a" x="510" y="282">114<tspan class="g" x="510" dy="13">214057</tspan><tspan class="t" x="510" dy="13">25.00%</tspan></text>
<text class="a" x="750" y="282">200<tspan class="g" x="750" dy="13">215657</tspan><tspan class="t" x="750" dy="13">13.20%</tspan></text>
<text class="a" x="990" y="282">206<tspan class="g" x="990" dy="13">217305</tspan><tspan class="t" x="990" dy="13">0.70%</tspan></text>
</g>

<g id="row30" transform="translate(0,4089)">
<rect class="bg" x="31" y="195" width="960" height="81"/>
<use href="#staff"/>
<rect x="31" y="231.5" width="104" height="7" fill="#ff0"/>
<rect x="271" y="231.5" width="74" height="7" fill="#ff0"/>
<rect x="361" y="216.5" width="74" height="7" fill="#f00"/>
<rect x="451" y="201.5" width="45" height="7" fill="#0e0"/>
<path class="n" stroke="url(#pY)" d="M136 236h90M496 236h120M946 236h30"/>
<path class="n" stroke="url(#pB)" d="M226 236h30M826 236h120"/>
<path class="n" stroke="url(#pO)" d="M616 236h120"/>
<path class="n" stroke="url(#pG)" d="M736 236h90"/>
<path class="n" stroke="url(#sY)" d="M256 236h30"/>
<path class="n" stroke="url(#sR)" d="M346 236h30"/>
<path class="n" stroke="url(#sG)" d="M436 236h30"/>
<rect class="og" x="271" y="205" width="224" height="61"/>
<rect class="ob" x="31" y="205" width="960" height="61"/>
<text class="q" x="31" y="185">♩=144</text><text class="q" x="271" y="185">♩=145</text><text class="q" x="511" y="185">♩=139</text><text class="q" x="751" y="185">♩=141</text>
<text class="m" x="31" y="198">117</text><text class="m" x="271" y="198">118</text><text class="m" x="511" y="198">119</text><text class="m" x="751" y="198">120</text>
<text class="a" x="270" y="282">121<tspan class="g" x="270" dy="13">218273</tspan><tspan class="t" x="270" dy="13">0.00%</tspan></text>
<text class="a" x="510" y="282">114<tspan class="g" x="510" dy="13">219185</tspan><tspan class="t" x="510" dy="13">24.43%</tspan></text>
<text class="a" x="750" y="282">200<tspan class="g" x="750" dy="13">220785</tspan><tspan class="t" x="750" dy="13">11.93%</tspan></text>
<text class="a" x="990" y="282">200<tspan class="g" x="990" dy="13">222385</tspan><tspan class="t" x="990" dy="13">0.00%</tspan></text>
</g>

<g id="row31" transform="translate(0,4230)">
<rect class="bg" x="31" y="195" width="960" height="81"/>
<use href="#staff"/>
<rect x="31" y="231.5" width="104" height="7" fill="#ff0"/>
<rect x="271" y="231.5" width="74" height="7" fill="#ff0"/>
<rect x="361" y="216.5" width="74" height="7" fill="#f00"/>
<rect x="451" y="201.5" width="45" height="7" fill="#0e0"/>
<path class="n" stroke="url(#pY)" d="M16 236h30M136 236h90M256 236h30M496 236h120"/>
<path class="n" stroke="url(#pB)" d="M226 236h30M886 236h30"/>
<path class="n" stroke="url(#pR)" d="M346 236h30M736 236h90M856 236h30M916 236h60"/>
<path class="n" stroke="url(#pG)" d="M436 236h30M826 236h30"/>
<path class="n" stroke="url(#pO)" d="M616 236h120"/>
<rect class="ob" x="31" y="205" width="225" height="61"/>
<rect class="op" x="256" y="205" width="15" height="61"/>
<text class="q" x="31" y="185">♩=141</text><text class="q" x="271" y="185">♩=141</text><text class="q" x="511" y="185">♩=140</text><text class="q" x="751" y="185">♩=142</text>
<text class="m" x="31" y="198">121</text><text class="m" x="271" y="198">122</text><text class="m" x="511" y="198">123</text><text class="m" x="751" y="198">124</text>
<text class="a" x="270" y="282">146<tspan class="g" x="270" dy="13">223553</tspan><tspan class="t" x="270" dy="13">0.00%</tspan></text>
<text class="a" x="510" y="282">114<tspan class="g" x="510" dy="13">224109</tspan><tspan class="t" x="510" dy="13">0.00%</tspan></text>
<text class="a" x="750" y="282">200<tspan class="g" x="750" dy="13">224909</tspan><tspan class="t" x="750" dy="13">0.00%</tspan></text>
<text class="a" x="990" y="282">200<tspan class="g" x="990" dy="13">225709</tspan><tspan class="t" x="990" dy="13">0.00%</tspan></text>
</g>

<g id="row32" transform="translate(0,4371)">
<rect class="bg" x="31" y="195" width="480" height="81"/>
<use href="#staff"/>
<rect x="31" y="231.5" width="465" height="7" fill="#ff0"/>
<rect x="511" y="246.5" width="75" height="7" fill="#00f"/>
<rect x="511" y="262.5" width="75" height="7" fill="#ffa500"/>
<rect x="751" y="201.5" width="45" height="7" fill="#0e0"/>
<rect x="751" y="262.5" width="45" height="7" fill="#ffa500"/>
<path class="n" stroke="url(#pY)" d="M16 236h30"/>
<path class="n" stroke="url(#pB)" d="M496 236h30M556 236h150"/>
<path class="n" stroke="url(#pO)" d="M496 236h30M586 236h30M676 236h30M736 236h30M826 236h30M886 236h30"/>
<path class="n" stroke="url(#pG)" d="M736 236h30M796 236h180"/>
<text class="q" x="271" y="185">♩=127</text><text class="q" x="511" y="185">♩=130</text><text class="q" x="751" y="185">♩=126</text>
<text class="m" x="31" y="198">125</text><text class="m" x="271" y="198">126</text><text class="m" x="511" y="198">127</text><text class="m" x="751" y="198">128</text>
<text class="a" x="270" y="282">73<tspan class="g" x="270" dy="13">226001</tspan><tspan class="t" x="270" dy="13">0.00%</tspan></text>
<text class="a" x="510" y="282">45<tspan class="g" x="510" dy="13">226181</tspan><tspan class="t" x="510" dy="13">0.00%</tspan></text>
<text class="a" x="750" y="282">255<tspan class="g" x="750" dy="13">238201</tspan><tspan class="t" x="750" dy="13">0.00%</tspan></text>
<text class="a" x="990" y="282">268<tspan class="g" x="990" dy="13">239273</tspan><tspan class="t" x="990" dy="13">0.00%</tspan></text>
</g>

<g id="row33" transform="translate(0,4512)">
<use href="#staff2"/>
<rect x="31" y="216.5" width="480" height="7" fill="#f00"/>
<rect x="31" y="231.5" width="480" height="7" fill="#ff0"/>
<path class="n" stroke="url(#pR)" d="M16 236h30"/>
<path class="n" stroke="url(#pY)" d="M16 236h30"/>
<text class="m" x="31" y="198">129</text><text class="m" x="271" y="198">130</text>
<text class="a" x="270" y="282">146<tspan class="g" x="270" dy="13">239857</tspan><tspan class="t" x="270" dy="13">0.00%</tspan></text>
<text class="a" x="510" y="282">96<tspan class="g" x="510" dy="13">240241</tspan><tspan class="t" x="510" dy="13">0.00%</tspan></text>
</g>
</g>
</svg>
